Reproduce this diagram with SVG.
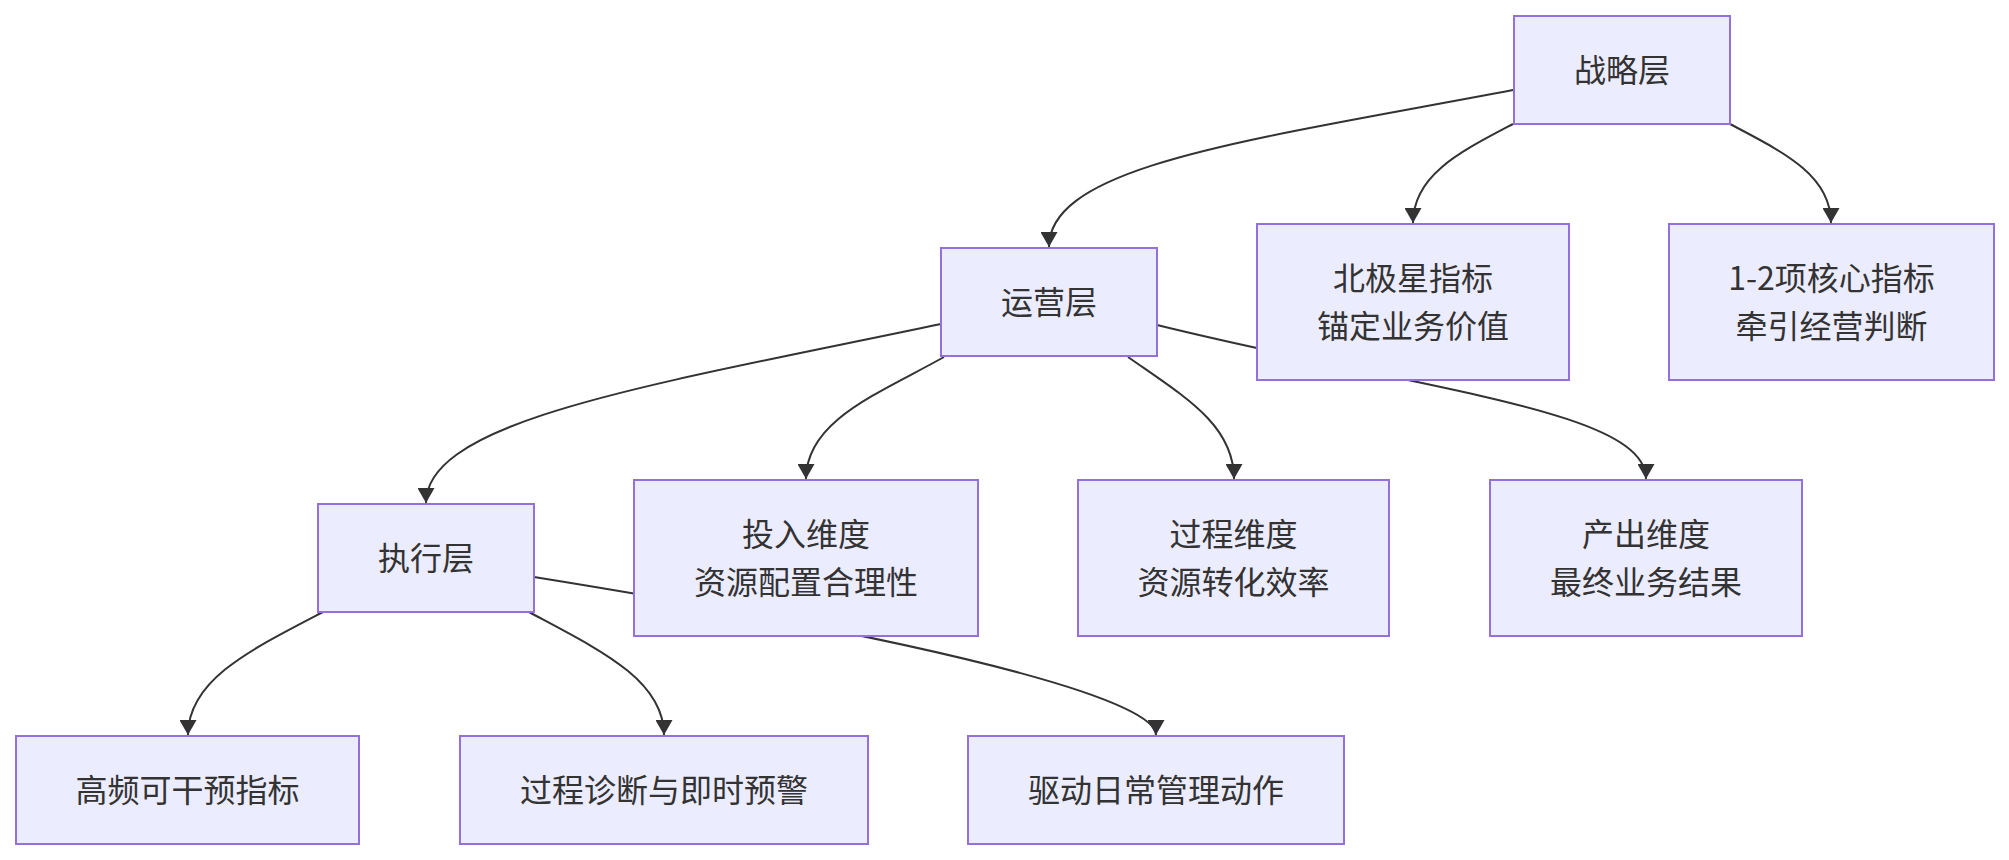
<svg xmlns="http://www.w3.org/2000/svg" width="2009" height="860" viewBox="0 0 2009 860">
<style>
.node rect{fill:#ECECFF;stroke:#9370DB;stroke-width:2}
.node text{font-family:"Noto Sans CJK SC","Noto Sans",sans-serif;font-size:32px;fill:#333333;text-anchor:middle}
.edge{fill:none;stroke:#333333;stroke-width:2;marker-end:url(#arrow)}
</style>
<defs>
<marker id="arrow" viewBox="0 0 15 17" refX="15" refY="8.5" markerWidth="15" markerHeight="17" markerUnits="userSpaceOnUse" orient="auto">
<path d="M0,0 L15,8.5 L0,17 z" fill="#333333"/>
</marker>
</defs>
<rect width="2009" height="860" fill="#ffffff"/>
<g id="connectors">
<path class="edge" d="M1513,90 C1250,140 1049,165 1049,247"/>
<path class="edge" d="M1513,124 C1460,152 1413,175 1413,223"/>
<path class="edge" d="M1730,124 C1783,152 1831,175 1831,223"/>
<path class="edge" d="M941,324 C650,385 426,420 426,503"/>
<path class="edge" d="M944,357 C880,393 806,420 806,479"/>
<path class="edge" d="M1128,357 C1185,397 1234,425 1234,479"/>
<path class="edge" d="M1157,325 C1425,391 1646,410 1646,479"/>
<path class="edge" d="M323,612 C250,650 188,680 188,735"/>
<path class="edge" d="M529,612 C600,650 664,680 664,735"/>
<path class="edge" d="M534,577 C1000,652 1156,705 1156,735"/>
</g>
<g id="node-strategy" class="node">
<rect x="1514" y="16" width="216" height="108"/>
<text x="1622" y="81.5">战略层</text>
</g>
<g id="node-operation" class="node">
<rect x="941" y="248" width="216" height="108"/>
<text x="1049" y="313.5">运营层</text>
</g>
<g id="node-northstar" class="node">
<rect x="1257" y="224" width="312" height="156"/>
<text x="1413" y="289.5">北极星指标</text>
<text x="1413" y="337.5">锚定业务价值</text>
</g>
<g id="node-core" class="node">
<rect x="1669" y="224" width="325" height="156"/>
<text x="1831.5" y="289.5">1-2项核心指标</text>
<text x="1831.5" y="337.5">牵引经营判断</text>
</g>
<g id="node-execution" class="node">
<rect x="318" y="504" width="216" height="108"/>
<text x="426" y="569.5">执行层</text>
</g>
<g id="node-input" class="node">
<rect x="634" y="480" width="344" height="156"/>
<text x="806" y="545.5">投入维度</text>
<text x="806" y="593.5">资源配置合理性</text>
</g>
<g id="node-process" class="node">
<rect x="1078" y="480" width="311" height="156"/>
<text x="1233.5" y="545.5">过程维度</text>
<text x="1233.5" y="593.5">资源转化效率</text>
</g>
<g id="node-output" class="node">
<rect x="1490" y="480" width="312" height="156"/>
<text x="1646" y="545.5">产出维度</text>
<text x="1646" y="593.5">最终业务结果</text>
</g>
<g id="node-highfreq" class="node">
<rect x="16" y="736" width="343" height="108"/>
<text x="187.5" y="801.5">高频可干预指标</text>
</g>
<g id="node-diagnosis" class="node">
<rect x="460" y="736" width="408" height="108"/>
<text x="664" y="801.5">过程诊断与即时预警</text>
</g>
<g id="node-drive" class="node">
<rect x="968" y="736" width="376" height="108"/>
<text x="1156" y="801.5">驱动日常管理动作</text>
</g>
</svg>
